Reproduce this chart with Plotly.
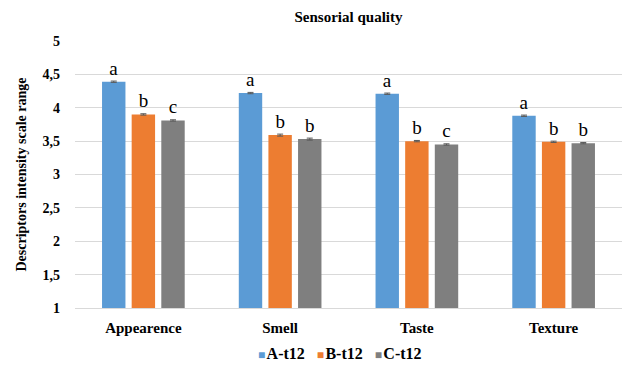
import plotly.graph_objects as go

# Sensory descriptors scored for each sample
categories = ["Appearence", "Smell", "Taste", "Texture"]
series_names = ["A-t12", "B-t12", "C-t12"]
series_colors = ["#5B9BD5", "#ED7D31", "#7F7F7F"]

a_values = [4.39, 4.22, 4.21, 3.88]
b_values = [3.90, 3.59, 3.50, 3.49]
c_values = [3.81, 3.53, 3.45, 3.47]

a_errors = [0.01, 0.01, 0.01, 0.01]
b_errors = [0.01, 0.015, 0.01, 0.01]
c_errors = [0.01, 0.015, 0.01, 0.01]

# Significance letters
a_letters = ["a", "a", "a", "a"]
b_letters = ["b", "b", "b", "b"]
c_letters = ["c", "b", "c", "b"]

y_tickvals = [1, 1.5, 2, 2.5, 3, 3.5, 4, 4.5, 5]
y_ticktext = ["1", "1,5", "2", "2,5", "3", "3,5", "4", "4,5", "5"]

serif = "Times New Roman"

fig = go.Figure()
for name, color, vals, errs, letters in zip(
    series_names, series_colors,
    [a_values, b_values, c_values],
    [a_errors, b_errors, c_errors],
    [a_letters, b_letters, c_letters],
):
    fig.add_trace(go.Bar(
        name=name,
        x=categories,
        y=vals,
        marker=dict(color=color, line=dict(width=0)),
        error_y=dict(type="data", array=errs, color="#595959", thickness=1, width=3),
        text=letters,
        textposition="outside",
        textfont=dict(family=serif, size=19, color="#000000"),
        cliponaxis=False,
        showlegend=False,
    ))

# Compact legend row: small coloured square keys followed by bold names
legend_text = "&#160;&#160;&#160;".join(
    f'<span style="color:{color};font-size:12px">■</span>&#8202;<b>{name}</b>'
    for name, color in zip(series_names, series_colors)
)

fig.update_layout(
    width=625,
    height=366,
    margin=dict(l=75, r=3, t=41, b=58),
    paper_bgcolor="white",
    plot_bgcolor="white",
    font=dict(family=serif, color="#000000"),
    barmode="group",
    bargap=0.35,
    bargroupgap=0.21,
    showlegend=False,
    title=dict(
        text="<b>Sensorial quality</b>",
        x=0.5, xanchor="center", xref="paper",
        y=1 - 17 / 366, yanchor="middle",
        font=dict(family=serif, size=15, color="#000000"),
    ),
    annotations=[dict(
        text=legend_text,
        xref="paper", yref="paper",
        x=0.484, y=-0.17,
        xanchor="center", yanchor="middle",
        showarrow=False,
        font=dict(family=serif, size=16, color="#000000"),
    )],
)

fig.update_xaxes(
    showgrid=False,
    showline=True,
    linecolor="#D9D9D9",
    linewidth=1,
    ticks="",
    tickvals=categories,
    ticktext=[f"<b>{c}</b>" for c in categories],
    tickfont=dict(family=serif, size=15, color="#000000"),
    ticklabelstandoff=6,
)
fig.update_yaxes(
    range=[1, 5],
    tickvals=y_tickvals,
    ticktext=[f"<b>{t}</b>" for t in y_ticktext],
    showgrid=True,
    gridcolor="#D9D9D9",
    gridwidth=1,
    zeroline=False,
    showline=False,
    ticks="",
    ticklabelstandoff=14,
    tickfont=dict(family=serif, size=14, color="#000000"),
    title=dict(
        text="<b>Descriptors intensity scale range</b>",
        font=dict(family=serif, size=14, color="#000000"),
        standoff=12,
    ),
)

fig.write_html("out.html")
